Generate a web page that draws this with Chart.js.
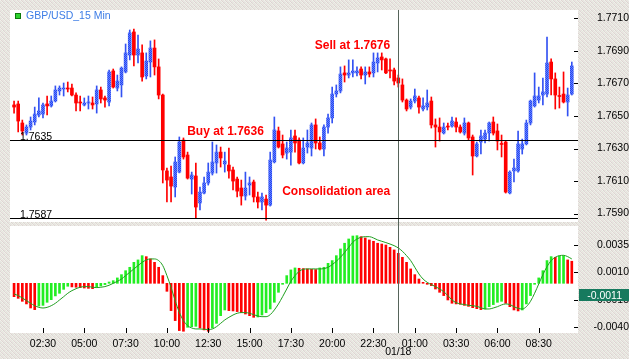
<!DOCTYPE html>
<html>
<head>
<meta charset="utf-8">
<script src="https://cdn.jsdelivr.net/npm/chart.js@4.4.1/dist/chart.umd.min.js"></script>
<style>
  html, body { margin: 0; padding: 0; }
  body { width: 629px; height: 359px; position: relative; overflow: hidden; background-color: #e7e4df; }
  canvas { position: absolute; left: 0; }
  #priceChart { top: 0; }
  #caoChart { top: 224px; }
</style>
</head>
<body>
<canvas id="priceChart" width="629" height="224"></canvas>
<canvas id="caoChart" width="629" height="135"></canvas>
<script>
// GBP/USD 15 min candles, 00:45 (01/17) .. 10:30 (01/18)
const opens = [1.76568,1.76574,1.76457,1.76395,1.76432,1.76463,1.76506,1.76512,1.76574,1.76562,
  1.76592,1.76654,1.76666,1.76672,1.76672,1.76629,1.76586,1.76568,1.76580,1.76580,
  1.76574,1.76660,1.76611,1.76586,1.76777,1.76672,1.76691,1.76771,1.76875,1.77017,
  1.76875,1.76888,1.76746,1.76832,1.76918,1.76802,1.76629,1.76162,1.76125,1.76063,
  1.76155,1.76352,1.76260,1.76112,1.76131,1.75965,1.76026,1.76088,1.76149,1.76211,
  1.76278,1.76205,1.76198,1.76168,1.76112,1.76057,1.76008,1.76075,1.76094,1.76002,
  1.75971,1.75989,1.75952,1.76217,1.76408,1.76328,1.76272,1.76278,1.76377,1.76352,
  1.76211,1.76309,1.76303,1.76445,1.76334,1.76297,1.76432,1.76488,1.76635,1.76654,
  1.76765,1.76752,1.76765,1.76765,1.76789,1.76752,1.76771,1.76765,1.76826,1.76863,
  1.76851,1.76783,1.76783,1.76734,1.76691,1.76598,1.76555,1.76592,1.76611,1.76543,
  1.76555,1.76592,1.76445,1.76432,1.76395,1.76438,1.76438,1.76463,1.76432,1.76395,
  1.76457,1.76371,1.76254,1.76340,1.76358,1.76395,1.76463,1.76408,1.76331,1.76340,
  1.76026,1.76162,1.76162,1.76297,1.76328,1.76457,1.76562,1.76598,1.76629,1.76635,
  1.76832,1.76728,1.76626,1.76635,1.76586,1.76635];
const highs = [1.76592,1.76592,1.76475,1.76445,1.76494,1.76555,1.76611,1.76580,1.76623,1.76623,
  1.76685,1.76685,1.76703,1.76709,1.76697,1.76642,1.76623,1.76611,1.76623,1.76617,
  1.76685,1.76678,1.76623,1.76783,1.76789,1.76752,1.76802,1.76943,1.77029,1.77035,
  1.76998,1.76937,1.76888,1.76962,1.76968,1.76851,1.76635,1.76180,1.76192,1.76248,
  1.76371,1.76365,1.76278,1.76155,1.76211,1.76063,1.76125,1.76211,1.76340,1.76322,
  1.76309,1.76278,1.76303,1.76186,1.76125,1.76106,1.76155,1.76125,1.76106,1.76032,
  1.76026,1.76014,1.76278,1.76494,1.76432,1.76383,1.76340,1.76414,1.76414,1.76365,
  1.76365,1.76414,1.76457,1.76482,1.76371,1.76445,1.76512,1.76678,1.76691,1.76802,
  1.76808,1.76845,1.76845,1.76802,1.76802,1.76802,1.76802,1.76888,1.76888,1.76888,
  1.76857,1.76851,1.76795,1.76752,1.76728,1.76605,1.76605,1.76666,1.76623,1.76611,
  1.76660,1.76617,1.76482,1.76488,1.76457,1.76457,1.76494,1.76488,1.76445,1.76488,
  1.76463,1.76383,1.76340,1.76414,1.76414,1.76463,1.76494,1.76451,1.76383,1.76346,
  1.76162,1.76235,1.76408,1.76358,1.76475,1.76598,1.76765,1.76678,1.76734,1.76986,
  1.76851,1.76765,1.76678,1.76771,1.76672,1.76832];
const lows = [1.76518,1.76402,1.76383,1.76383,1.76414,1.76445,1.76494,1.76488,1.76506,1.76555,
  1.76586,1.76629,1.76623,1.76648,1.76623,1.76531,1.76531,1.76562,1.76543,1.76543,
  1.76518,1.76580,1.76555,1.76562,1.76672,1.76654,1.76617,1.76765,1.76845,1.76808,
  1.76826,1.76715,1.76728,1.76740,1.76752,1.76605,1.76088,1.75971,1.75971,1.76002,
  1.76150,1.76235,1.76112,1.76020,1.75872,1.75922,1.76020,1.76075,1.76137,1.76149,
  1.76186,1.76155,1.76118,1.76045,1.76002,1.75952,1.75983,1.76014,1.75971,1.75934,
  1.75922,1.75860,1.75946,1.76211,1.76303,1.76242,1.76235,1.76198,1.76278,1.76205,
  1.76205,1.76272,1.76254,1.76297,1.76291,1.76254,1.76395,1.76457,1.76617,1.76642,
  1.76709,1.76734,1.76740,1.76746,1.76728,1.76697,1.76740,1.76740,1.76771,1.76783,
  1.76760,1.76734,1.76691,1.76678,1.76586,1.76531,1.76543,1.76580,1.76518,1.76531,
  1.76537,1.76426,1.76309,1.76346,1.76389,1.76414,1.76432,1.76402,1.76395,1.76383,
  1.76352,1.76137,1.76248,1.76266,1.76334,1.76346,1.76383,1.76291,1.76248,1.76026,
  1.76020,1.76094,1.76155,1.76266,1.76322,1.76445,1.76555,1.76580,1.76568,1.76617,
  1.76629,1.76543,1.76549,1.76580,1.76500,1.76629];
const closes = [1.76555,1.76469,1.76408,1.76432,1.76469,1.76512,1.76531,1.76568,1.76562,1.76592,
  1.76660,1.76672,1.76672,1.76666,1.76629,1.76580,1.76580,1.76580,1.76586,1.76568,
  1.76660,1.76605,1.76598,1.76771,1.76678,1.76715,1.76795,1.76888,1.77011,1.76875,
  1.76912,1.76740,1.76838,1.76918,1.76802,1.76629,1.76168,1.76106,1.76069,1.76217,
  1.76340,1.76248,1.76118,1.76137,1.75940,1.76032,1.76088,1.76155,1.76217,1.76278,
  1.76242,1.76223,1.76162,1.76100,1.76038,1.76008,1.76057,1.76088,1.76002,1.75971,
  1.76002,1.75952,1.76229,1.76414,1.76309,1.76260,1.76303,1.76365,1.76334,1.76211,
  1.76303,1.76334,1.76445,1.76334,1.76297,1.76432,1.76488,1.76635,1.76654,1.76758,
  1.76752,1.76765,1.76777,1.76777,1.76752,1.76771,1.76758,1.76832,1.76857,1.76845,
  1.76765,1.76777,1.76715,1.76703,1.76598,1.76543,1.76592,1.76623,1.76555,1.76562,
  1.76580,1.76445,1.76432,1.76402,1.76432,1.76432,1.76469,1.76432,1.76402,1.76457,
  1.76365,1.76254,1.76328,1.76377,1.76395,1.76457,1.76395,1.76346,1.76325,1.76032,
  1.76155,1.76180,1.76328,1.76328,1.76457,1.76592,1.76623,1.76623,1.76648,1.76826,
  1.76728,1.76629,1.76620,1.76586,1.76629,1.76808];

// CAO histogram and its signal line
const caoValues = [-0.00122,-0.00137,-0.00164,-0.00188,-0.00225,-0.00240,-0.00207,-0.00201,-0.00173,-0.00149,
  -0.00115,-0.00091,-0.00055,-0.00027,-0.00033,-0.00036,-0.00039,-0.00043,-0.00046,-0.00049,
  -0.00036,-0.00024,-0.00012,0.00012,0.00024,0.00049,0.00079,0.00115,0.00146,0.00191,
  0.00213,0.00252,0.00243,0.00222,0.00191,0.00146,0.00070,-0.00073,-0.00249,-0.00340,
  -0.00431,-0.00437,-0.00401,-0.00395,-0.00392,-0.00407,-0.00425,-0.00437,-0.00407,-0.00365,
  -0.00295,-0.00243,-0.00249,-0.00252,-0.00258,-0.00267,-0.00280,-0.00295,-0.00310,-0.00307,
  -0.00289,-0.00267,-0.00234,-0.00173,-0.00082,-0.00006,0.00070,0.00122,0.00140,0.00137,
  0.00134,0.00131,0.00128,0.00125,0.00140,0.00146,0.00182,0.00207,0.00252,0.00313,
  0.00365,0.00404,0.00431,0.00434,0.00425,0.00413,0.00395,0.00383,0.00365,0.00358,
  0.00349,0.00328,0.00304,0.00273,0.00237,0.00191,0.00131,0.00079,0.00039,0.00003,
  -0.00006,-0.00021,-0.00052,-0.00082,-0.00112,-0.00152,-0.00182,-0.00188,-0.00191,-0.00201,
  -0.00210,-0.00222,-0.00231,-0.00240,-0.00234,-0.00213,-0.00194,-0.00173,-0.00164,-0.00182,
  -0.00213,-0.00243,-0.00252,-0.00243,-0.00188,-0.00112,-0.00006,0.00049,0.00115,0.00207,
  0.00243,0.00237,0.00249,0.00252,0.00213,0.00201];
const signalValues = [-0.00097,-0.00112,-0.00134,-0.00158,-0.00182,-0.00204,-0.00219,-0.00225,-0.00219,-0.00204,
  -0.00182,-0.00152,-0.00122,-0.00091,-0.00067,-0.00049,-0.00036,-0.00030,-0.00030,-0.00036,
  -0.00039,-0.00036,-0.00030,-0.00018,0.00000,0.00018,0.00039,0.00070,0.00100,0.00131,
  0.00161,0.00191,0.00213,0.00222,0.00222,0.00207,0.00161,0.00070,-0.00036,-0.00158,
  -0.00264,-0.00340,-0.00386,-0.00407,-0.00416,-0.00416,-0.00419,-0.00422,-0.00416,-0.00395,
  -0.00365,-0.00334,-0.00310,-0.00289,-0.00273,-0.00267,-0.00267,-0.00273,-0.00286,-0.00298,
  -0.00304,-0.00304,-0.00286,-0.00243,-0.00188,-0.00122,-0.00052,0.00018,0.00070,0.00109,
  0.00128,0.00131,0.00131,0.00131,0.00131,0.00134,0.00146,0.00170,0.00201,0.00237,
  0.00280,0.00328,0.00374,0.00404,0.00419,0.00425,0.00425,0.00413,0.00395,0.00383,
  0.00371,0.00358,0.00343,0.00322,0.00292,0.00252,0.00207,0.00146,0.00085,0.00039,
  0.00009,-0.00012,-0.00030,-0.00052,-0.00076,-0.00112,-0.00152,-0.00176,-0.00188,-0.00194,
  -0.00201,-0.00204,-0.00210,-0.00222,-0.00234,-0.00234,-0.00225,-0.00213,-0.00197,-0.00188,
  -0.00194,-0.00213,-0.00228,-0.00234,-0.00213,-0.00164,-0.00091,-0.00006,0.00079,0.00152,
  0.00207,0.00237,0.00252,0.00255,0.00243,0.00222];
const caoBadge = -0.0011;

const priceTicks = [1.7590, 1.7610, 1.7630, 1.7650, 1.7670, 1.7690, 1.7710];
const caoTicks = [0.0035, 0.0010, -0.0015, -0.0040];
const levels = [1.7635, 1.7587];
const dayStartIndex = 93; // 01/18 00:00
const dayLabel = '01/18';

// one category per 15 min bar, plus an empty slot on the right
const timeLabels = [];
for (let i = 0; i < opens.length + 1; i++) {
  const m = 45 + i * 15;
  timeLabels.push(String(Math.floor(m / 60) % 24).padStart(2, '0') + ':' + String(m % 60).padStart(2, '0'));
}

const FONT = '"Liberation Sans", Arial, sans-serif';
Chart.defaults.font.family = FONT;
Chart.defaults.font.size = 10.5;
Chart.defaults.color = '#000';

// page background texture
(function () {
  const c = document.createElement('canvas');
  c.width = 4; c.height = 4;
  const g = c.getContext('2d');
  const px = ['#f2eeea','#dedad4','#ece2e2','#e2e8de','#e4e8e0','#f0ece8','#dcd8d2','#eee4e4',
              '#eae0e0','#e0e6dc','#f4f0ec','#d8d6d0','#dcdad4','#efe9e6','#e2e6de','#f0eae6'];
  px.forEach((col, k) => { g.fillStyle = col; g.fillRect(k % 4, Math.floor(k / 4), 1, 1); });
  document.body.style.backgroundImage = 'url(' + c.toDataURL() + ')';
})();

// dithered blue for rising bodies
function bluePattern() {
  const c = document.createElement('canvas');
  c.width = 2; c.height = 2;
  const g = c.getContext('2d');
  g.fillStyle = '#2646f0'; g.fillRect(0, 0, 2, 2);
  g.fillStyle = '#607eff'; g.fillRect(1, 0, 1, 1); g.fillRect(0, 1, 1, 1);
  return g.createPattern(c, 'repeat');
}
const upFill = bluePattern();
const UP = '#3352f2', DOWN = '#ff0000';

const bodies = opens.map((o, i) => [Math.min(o, closes[i]), Math.max(o, closes[i])]);
const wicks = lows.map((l, i) => [l, highs[i]]);
const bodyColors = opens.map((o, i) => closes[i] >= o ? upFill : DOWN);
const wickColors = opens.map((o, i) => closes[i] >= o ? UP : DOWN);
const caoColors = caoValues.map((v, i) => i > 0 && v >= caoValues[i - 1] ? '#22ee22' : '#ff0000');

function legendItem(ctx, x, y, text) {
  ctx.fillStyle = '#0c7a0c';
  ctx.fillRect(x, y, 6, 6);
  ctx.fillStyle = '#2fd22f';
  ctx.fillRect(x + 1, y + 1, 4, 4);
  ctx.fillStyle = '#3d7de6';
  ctx.font = '10.5px ' + FONT;
  ctx.textAlign = 'left';
  ctx.textBaseline = 'middle';
  ctx.fillText(text, x + 11, y + 3.5);
}

function yTickMarks(ctx, a, scale) {
  ctx.strokeStyle = '#000';
  ctx.lineWidth = 1;
  scale.ticks.forEach(t => {
    const py = Math.round(scale.getPixelForValue(t.value)) + 0.5;
    ctx.beginPath(); ctx.moveTo(a.right - 4, py); ctx.lineTo(a.right, py); ctx.stroke();
  });
}

const priceDecor = {
  id: 'priceDecor',
  beforeDraw(chart) {
    const { ctx, chartArea: a } = chart;
    ctx.save();
    ctx.fillStyle = '#fff';
    ctx.fillRect(10, a.top, a.right - 10, a.bottom - a.top);
    ctx.restore();
  },
  afterDraw(chart) {
    const { ctx, chartArea: a, scales: { x, y } } = chart;
    ctx.save();
    // day separator
    const vx = Math.round(x.getPixelForValue(dayStartIndex)) + 0.5;
    ctx.strokeStyle = '#56645a'; ctx.lineWidth = 1;
    ctx.beginPath(); ctx.moveTo(vx, a.top); ctx.lineTo(vx, chart.height); ctx.stroke();
    // support / resistance levels
    ctx.strokeStyle = '#000';
    ctx.fillStyle = '#000';
    ctx.font = '10.5px ' + FONT;
    ctx.textAlign = 'left';
    ctx.textBaseline = 'alphabetic';
    levels.forEach(v => {
      const py = Math.round(y.getPixelForValue(v)) + 0.5;
      ctx.beginPath(); ctx.moveTo(10, py); ctx.lineTo(a.right, py); ctx.stroke();
      ctx.fillText(v.toFixed(4), 20, py - 1);
    });
    yTickMarks(ctx, a, y);
    // notes
    ctx.fillStyle = '#ff0000';
    ctx.font = 'bold 12px ' + FONT;
    ctx.fillText('Sell at 1.7676', x.getPixelForValue(72.8), y.getPixelForValue(1.76912));
    ctx.fillText('Buy at 1.7636', x.getPixelForValue(41.9), y.getPixelForValue(1.76383));
    ctx.fillText('Consolidation area', x.getPixelForValue(64.9), y.getPixelForValue(1.76014));
    legendItem(ctx, 15, 13, 'GBP/USD_15 Min');
    ctx.restore();
  }
};

const caoDecor = {
  id: 'caoDecor',
  beforeDraw(chart) {
    const { ctx, chartArea: a } = chart;
    ctx.save();
    ctx.fillStyle = '#fff';
    ctx.fillRect(10, a.top, a.right - 10, a.bottom - a.top);
    ctx.restore();
  },
  afterDraw(chart) {
    const { ctx, chartArea: a, scales: { x, y } } = chart;
    ctx.save();
    const vx = Math.round(x.getPixelForValue(dayStartIndex)) + 0.5;
    ctx.strokeStyle = '#56645a'; ctx.lineWidth = 1;
    ctx.beginPath(); ctx.moveTo(vx, 0); ctx.lineTo(vx, a.bottom); ctx.stroke();
    // time ticks inside the panel
    ctx.strokeStyle = '#000';
    for (let i = 7; i < opens.length; i += 10) {
      const px = Math.round(x.getPixelForValue(i)) + 0.5;
      ctx.beginPath(); ctx.moveTo(px, a.bottom - 5); ctx.lineTo(px, a.bottom); ctx.stroke();
    }
    yTickMarks(ctx, a, y);
    ctx.fillStyle = '#000';
    ctx.font = '10.5px ' + FONT;
    ctx.textAlign = 'center';
    ctx.textBaseline = 'middle';
    ctx.fillText(dayLabel, x.getPixelForValue(dayStartIndex), 128);
    // current value badge
    const by = y.getPixelForValue(caoBadge);
    ctx.fillStyle = '#167a5e';
    ctx.fillRect(a.right + 1, Math.round(by - 6), chart.width - a.right - 1, 12);
    ctx.fillStyle = '#fff';
    ctx.textAlign = 'right';
    ctx.fillText(caoBadge.toFixed(4), 622, by + 0.5);
    legendItem(ctx, 15, 229, 'CAO');
    legendItem(ctx, 57, 229, 'Signal Line');
    ctx.restore();
  }
};

new Chart(document.getElementById('priceChart'), {
  type: 'bar',
  data: {
    labels: timeLabels,
    datasets: [
      { data: bodies, backgroundColor: bodyColors, barThickness: 3, minBarLength: 1, grouped: false },
      { data: wicks, backgroundColor: wickColors, barThickness: 1, grouped: false }
    ]
  },
  options: {
    responsive: false,
    animation: false,
    layout: { padding: { left: 12, top: 10, right: 0, bottom: 2 } },
    plugins: { legend: { display: false }, tooltip: { enabled: false } },
    scales: {
      x: { display: false },
      y: {
        position: 'right',
        min: 1.75848,
        max: 1.77152,
        grid: { display: false, drawTicks: false },
        border: { display: false },
        ticks: { padding: 11, crossAlign: 'far', callback: v => v.toFixed(4) },
        afterBuildTicks: s => { s.ticks = priceTicks.map(v => ({ value: v })); },
        afterFit: s => { s.width = 51; s.paddingTop = 0; s.paddingBottom = 0; }
      }
    }
  },
  plugins: [priceDecor]
});

new Chart(document.getElementById('caoChart'), {
  type: 'bar',
  data: {
    labels: timeLabels,
    datasets: [
      { type: 'line', data: signalValues, borderColor: '#1f9f1f', borderWidth: 1, pointRadius: 0,
        cubicInterpolationMode: 'monotone', fill: false },
      { data: caoValues, backgroundColor: caoColors, barThickness: 2, minBarLength: 1 }
    ]
  },
  options: {
    responsive: false,
    animation: false,
    layout: { padding: { left: 12, top: 2, right: 0, bottom: 0 } },
    plugins: { legend: { display: false }, tooltip: { enabled: false } },
    scales: {
      x: {
        grid: { display: false, drawTicks: false },
        border: { display: false },
        ticks: {
          autoSkip: false, maxRotation: 0, minRotation: 0, padding: 5,
          callback: (v, i) => (i >= 7 && (i - 7) % 10 === 0 && i < opens.length) ? timeLabels[i] : ''
        },
        afterFit: s => { s.height = 26; s.paddingLeft = 0; s.paddingRight = 0; }
      },
      y: {
        position: 'right',
        min: -0.004529,
        max: 0.005222,
        grid: { display: false, drawTicks: false },
        border: { display: false },
        ticks: { padding: 7, crossAlign: 'far', callback: v => v.toFixed(4) },
        afterBuildTicks: s => { s.ticks = caoTicks.map(v => ({ value: v })); },
        afterFit: s => { s.width = 51; s.paddingTop = 0; s.paddingBottom = 0; }
      }
    }
  },
  plugins: [caoDecor]
});
</script>
</body>
</html>
